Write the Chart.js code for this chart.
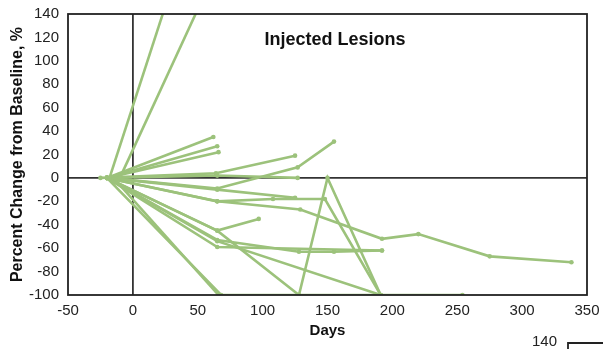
<!DOCTYPE html>
<html>
<head>
<meta charset="utf-8">
<script src="https://cdn.jsdelivr.net/npm/chart.js@4"></script>
<style>
  html, body { margin: 0; padding: 0; background: #fff; }
  #wrap { width: 603px; height: 349px; }
</style>
</head>
<body>
<div id="wrap"><canvas id="lesions"></canvas></div>
<script>
// days from treatment start, one list per lesion
const lesionDays = [
  [-18, 45],
  [-10, 65],
  [-20, 62],
  [-20, 65],
  [-20, 66],
  [-25, 64, 125],
  [-20, 65, 127],
  [-20, 65, 127, 155],
  [-20, 65, 125],
  [-20, 65, 108, 148, 191],
  [-20, 65, 129, 192, 220, 275, 338],
  [-20, 65, 97],
  [-20, 65, 128, 155, 192],
  [-20, 65, 192],
  [-20, 65, 128, 150, 191],
  [-20, 65, 191],
  [-20, 68, 254],
  [-15, 66]
]

// percent change from baseline, same order as lesionDays
const lesionChange = [
  [0, 215],
  [0, 180],
  [0, 35],
  [0, 27],
  [0, 22],
  [0, 4, 19],
  [0, 2, 0],
  [0, -9, 9, 31],
  [0, -10, -17],
  [0, -20, -18, -18, -100],
  [0, -20, -27, -52, -48, -67, -72],
  [0, -45, -35],
  [0, -53, -63, -63, -62],
  [0, -59, -62],
  [0, -45, -100, 0, -100],
  [0, -54, -100],
  [0, -100, -100],
  [0, -100]
]

const xTicks = [-50, 0, 50, 100, 150, 200, 250, 300, 350]
const yTicks = [-100, -80, -60, -40, -20, 0, 20, 40, 60, 80, 100, 120, 140]

const green = "#9cc27b"
const fontFamily = "'Liberation Sans', Arial, sans-serif"
const axisFont = { family: fontFamily, size: 15 }

const datasets = lesionDays.map((days, i) => ({
  data: days.map((d, j) => ({ x: d, y: lesionChange[i][j] })),
  borderColor: green,
  backgroundColor: green,
  borderWidth: 2.6,
  pointRadius: 2.3,
  pointBorderWidth: 0,
  tension: 0,
}))

// frame around the plot, the panel heading, and the edge of the next panel
const framePlugin = {
  id: "frame",
  afterDraw(chart) {
    const { ctx, chartArea: a } = chart
    ctx.save()
    ctx.strokeStyle = "#222"
    ctx.lineWidth = 1.8
    ctx.strokeRect(a.left, a.top, a.right - a.left, a.bottom - a.top)

    ctx.fillStyle = "#111"
    ctx.font = "bold 18px " + fontFamily
    ctx.textAlign = "center"
    ctx.textBaseline = "middle"
    ctx.fillText("Injected Lesions", 335, 40)

    ctx.font = "15px " + fontFamily
    ctx.textAlign = "right"
    ctx.fillStyle = "#222"
    ctx.fillText("140", 557, 342)
    ctx.beginPath()
    ctx.moveTo(568, 349)
    ctx.lineTo(568, 343)
    ctx.lineTo(603, 343)
    ctx.stroke()
    ctx.restore()
  }
}

new Chart(document.getElementById("lesions").getContext("2d"), {
  type: "line",
  data: { datasets },
  plugins: [framePlugin],
  options: {
    responsive: true,
    maintainAspectRatio: false,
    animation: false,
    layout: { padding: { top: 14, right: 16, bottom: 0, left: 0 } },
    plugins: { legend: { display: false }, tooltip: { enabled: false } },
    scales: {
      x: {
        type: "linear",
        min: -50,
        max: 350,
        afterBuildTicks: (scale) => { scale.ticks = xTicks.map(v => ({ value: v })) },
        afterFit: (scale) => {
          scale.height = 54
          scale.paddingLeft = 0
          scale.paddingRight = 0
        },
        ticks: { color: "#222", font: axisFont, padding: 7, maxRotation: 0 },
        grid: {
          drawTicks: false,
          lineWidth: 1.8,
          color: (c) => c.tick && c.tick.value === 0 ? "#333" : "rgba(0,0,0,0)",
        },
        border: { display: false },
        title: {
          display: true, text: "Days", color: "#111",
          font: { family: fontFamily, size: 15, weight: "bold" },
          padding: { top: 0, bottom: 9 },
        },
      },
      y: {
        min: -100,
        max: 140,
        afterBuildTicks: (scale) => { scale.ticks = yTicks.map(v => ({ value: v })) },
        afterFit: (scale) => {
          scale.width = 68
          scale.paddingTop = 0
          scale.paddingBottom = 0
        },
        ticks: { color: "#222", font: axisFont, padding: 9 },
        grid: {
          drawTicks: false,
          lineWidth: 1.8,
          color: (c) => c.tick && c.tick.value === 0 ? "#333" : "rgba(0,0,0,0)",
        },
        border: { display: false },
        title: {
          display: true, text: "Percent Change from Baseline, %", color: "#111",
          font: { family: fontFamily, size: 16, weight: "bold" },
          padding: { top: 8, bottom: 0 },
        },
      },
    },
  },
})
</script>
</body>
</html>
